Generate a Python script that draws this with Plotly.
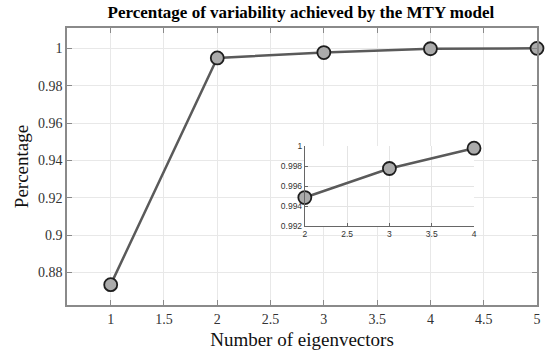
import plotly.graph_objects as go

x_main = [1, 2, 3, 4, 5]
y_main = [0.8734, 0.99485, 0.99775, 0.99978, 0.99999]
x_inset = [2, 3, 4]
y_inset = [0.99485, 0.99775, 0.99978]
x_ticks = [1, 1.5, 2, 2.5, 3, 3.5, 4, 4.5, 5]
y_ticks = [0.88, 0.9, 0.92, 0.94, 0.96, 0.98, 1]
inset_x_ticks = [2, 2.5, 3, 3.5, 4]
inset_y_ticks = [0.992, 0.994, 0.996, 0.998, 1]
inset_x_range = [2, 4]
inset_y_range = [0.992, 1]

line_col = "#5a5a5a"
marker = dict(size=13, color="#ababab", line=dict(color="#1e1e1e", width=1.8))

fig = go.Figure()
fig.add_trace(go.Scatter(x=x_main, y=y_main, mode="lines+markers",
                         line=dict(color=line_col, width=2.5), marker=marker,
                         cliponaxis=False, xaxis="x", yaxis="y", showlegend=False))
fig.add_trace(go.Scatter(x=x_inset, y=y_inset, mode="lines+markers",
                         line=dict(color=line_col, width=2.5), marker=marker,
                         cliponaxis=False, xaxis="x2", yaxis="y2", showlegend=False))

serif = "Liberation Serif"
fig.update_layout(
    width=547, height=350,
    margin=dict(l=67, r=10, t=28, b=45, autoexpand=False),
    paper_bgcolor="white", plot_bgcolor="white",
    title=dict(text="<b>Percentage of variability achieved by the MTY model</b>",
               x=0.55, xanchor="center", y=0.965, yanchor="middle",
               font=dict(family=serif, size=17, color="black")),
    xaxis=dict(range=[0.59, 5], tickvals=x_ticks, ticktext=[str(v) for v in x_ticks],
               automargin=False,
               showgrid=True, gridcolor="#e8e8e8", gridwidth=1,
               showline=True, linecolor="#8a8a8a", linewidth=1.5, mirror="ticks",
               ticks="inside", ticklen=5, tickcolor="#8a8a8a", zeroline=False,
               tickfont=dict(family=serif, size=14, color="#333"),
               title=dict(text="Number of eigenvectors", standoff=12,
                          font=dict(family=serif, size=19, color="#111"))),
    yaxis=dict(range=[0.8625, 1.0109], tickvals=y_ticks, ticktext=["0.88", "0.9", "0.92", "0.94", "0.96", "0.98", "1"],
               automargin=False,
               showgrid=True, gridcolor="#e8e8e8", gridwidth=1,
               showline=True, linecolor="#8a8a8a", linewidth=1.5, mirror="ticks",
               ticks="inside", ticklen=5, tickcolor="#8a8a8a", zeroline=False,
               tickfont=dict(family=serif, size=14, color="#333"),
               title=dict(text="Percentage", standoff=4,
                          font=dict(family=serif, size=19, color="#111"))),
    xaxis2=dict(domain=[0.506, 0.866], anchor="y2", range=inset_x_range, tickvals=inset_x_ticks,
                ticktext=["2", "2.5", "3", "3.5", "4"], automargin=False,
                showgrid=True, gridcolor="#e4e4e4", showline=True, linecolor="#666", linewidth=1,
                ticks="inside", ticklen=3, tickcolor="#666", zeroline=False,
                tickfont=dict(family="Liberation Sans", size=8.5, color="#333")),
    yaxis2=dict(domain=[0.285, 0.574], anchor="x2", range=inset_y_range, tickvals=inset_y_ticks,
                ticktext=["0.992", "0.994", "0.996", "0.998", "1"], automargin=False,
                showgrid=True, gridcolor="#e4e4e4", showline=True, linecolor="#666", linewidth=1,
                ticks="inside", ticklen=3, tickcolor="#666", zeroline=False,
                tickfont=dict(family="Liberation Sans", size=8.5, color="#333")),
)
fig.add_shape(type="rect", xref="x2", yref="y2",
              x0=inset_x_range[0], x1=inset_x_range[1], y0=inset_y_range[0], y1=inset_y_range[1],
              fillcolor="white", line=dict(width=0), layer="below")

fig.write_html("out.html")
